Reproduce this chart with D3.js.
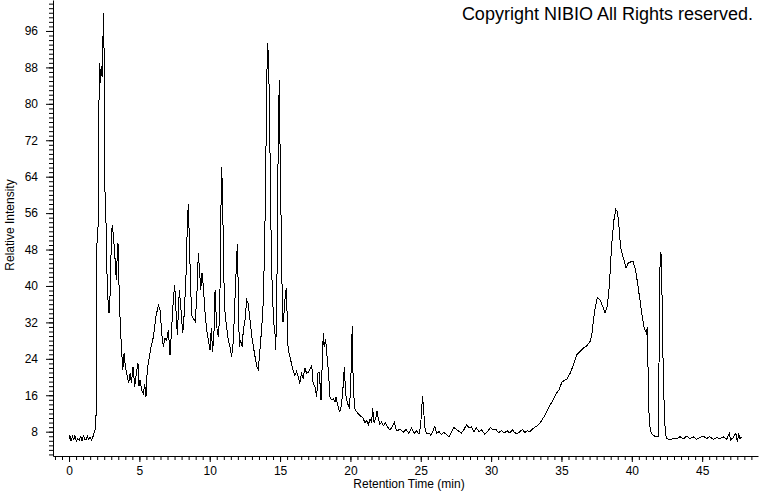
<!DOCTYPE html>
<html>
<head>
<meta charset="utf-8">
<script src="https://cdn.jsdelivr.net/npm/d3@7"></script>
<style>
body { margin: 0; background: #fff; }
svg { display: block; }
text { font-family: Arial, "Liberation Sans", sans-serif; }
</style>
</head>
<body>
<div id="chart"></div>
<script>
// retention time (min) and relative intensity
var times = [0.00,0.05,0.15,0.24,0.33,0.42,0.52,0.62,0.72,0.84,0.93,1.02,1.10,1.20,1.30,1.40,1.50,1.60,1.70,1.78,
1.85,1.92,1.97,2.06,2.13,2.18,2.25,2.30,2.37,2.44,2.49,2.54,2.61,2.68,2.77,2.84,2.94,3.01,3.08,3.18,
3.29,3.36,3.43,3.48,3.55,3.62,3.72,3.82,3.91,4.00,4.14,4.24,4.34,4.43,4.55,4.67,4.78,4.90,4.97,5.05,
5.15,5.28,5.38,5.47,5.56,5.71,5.83,5.95,6.06,6.18,6.35,6.47,6.59,6.70,6.82,6.94,7.06,7.18,7.30,7.41,
7.51,7.60,7.70,7.84,7.96,8.08,8.19,8.32,8.41,8.48,8.55,8.65,8.72,8.83,8.96,9.08,9.19,9.26,9.36,9.45,
9.55,9.67,9.79,9.90,10.02,10.11,10.21,10.31,10.38,10.45,10.54,10.64,10.73,10.80,10.85,10.92,10.99,11.09,11.21,11.32,
11.44,11.56,11.68,11.80,11.89,11.96,12.03,12.10,12.20,12.30,12.39,12.51,12.63,12.74,12.86,12.99,13.10,13.22,13.34,13.45,
13.57,13.70,13.81,13.91,13.98,14.05,14.12,14.17,14.24,14.32,14.39,14.46,14.55,14.64,14.69,14.76,14.82,14.88,14.95,15.00,
15.07,15.14,15.21,15.28,15.35,15.44,15.52,15.57,15.70,15.81,15.93,16.05,16.17,16.29,16.40,16.52,16.64,16.77,16.88,17.00,
17.10,17.25,17.35,17.49,17.60,17.70,17.79,17.91,18.03,18.07,18.13,18.24,18.31,18.43,18.55,18.67,18.79,18.90,18.97,19.07,
19.21,19.30,19.42,19.50,19.57,19.66,19.78,19.92,20.02,20.09,20.14,20.20,20.33,20.49,20.68,20.87,21.04,21.16,21.28,21.40,
21.51,21.58,21.68,21.79,21.89,21.99,22.10,22.22,22.34,22.48,22.60,22.77,22.93,23.12,23.28,23.52,23.76,23.95,24.14,24.35,
24.54,24.70,24.87,24.99,25.06,25.13,25.20,25.30,25.41,25.58,25.72,25.84,26.00,26.12,26.31,26.47,26.64,26.83,27.00,27.18,
27.35,27.54,27.73,27.89,28.06,28.25,28.44,28.60,28.77,28.96,29.15,29.34,29.55,29.74,29.96,30.15,30.34,30.53,30.74,30.93,
31.14,31.33,31.52,31.68,31.85,32.04,32.23,32.39,32.56,32.75,32.91,33.10,33.27,33.46,33.62,33.81,33.98,34.17,34.33,34.48,
34.64,34.83,35.02,35.20,35.37,35.61,35.85,36.08,36.32,36.56,36.79,37.03,37.15,37.27,37.39,37.55,37.74,37.93,38.10,38.26,
38.40,38.56,38.73,38.86,38.98,39.09,39.21,39.38,39.59,39.74,39.94,40.10,40.27,40.41,40.58,40.74,40.88,41.04,41.10,41.17,
41.24,41.36,41.48,41.64,41.81,41.90,41.97,42.03,42.11,42.19,42.28,42.38,42.50,42.71,42.95,43.18,43.42,43.66,43.89,44.13,
44.37,44.60,44.84,45.08,45.32,45.55,45.79,46.03,46.26,46.50,46.74,46.93,47.02,47.21,47.40,47.50,47.60,47.69,47.81];

var intensity = [6.5,7.3,5.9,7.0,6.3,7.1,5.9,6.5,6.1,7.0,5.9,7.3,6.4,6.2,7.0,6.3,6.8,6.2,6.9,7.7,
8.5,11.7,48.6,53.0,80.8,89.0,84.6,88.2,86.0,100.0,91.8,61.8,57.4,44.2,36.9,34.0,39.1,51.6,53.4,50.1,
45.0,41.3,47.2,49.4,40.6,33.3,26.7,21.6,25.2,22.3,20.1,18.7,20.8,18.7,22.3,17.9,20.8,23.0,18.0,19.4,
17.2,16.4,18.5,15.7,21.6,24.5,26.7,28.1,30.3,33.3,35.8,34.7,29.6,26.7,28.5,28.1,30.3,24.8,31.0,36.9,
40.2,34.7,29.2,39.1,34.7,29.6,34.0,42.8,53.8,58.0,50.1,39.1,33.6,32.9,32.2,37.3,47.2,44.2,39.1,42.8,
39.8,34.0,30.3,28.1,26.0,30.7,25.6,30.3,39.1,34.0,29.6,28.9,39.1,57.4,66.2,58.9,42.8,34.0,30.7,28.1,
26.7,24.5,28.1,37.6,44.2,49.2,39.1,26.7,28.1,26.7,30.3,32.5,36.9,36.2,32.5,28.9,26.7,24.5,22.3,21.6,
26.0,31.0,36.9,50.1,64.8,85.0,93.4,90.0,80.8,60.0,45.0,38.0,32.0,29.5,26.0,35.0,55.0,75.8,85.2,70.0,
55.0,40.0,32.0,34.0,37.0,39.5,32.0,26.0,24.4,23.0,21.5,20.4,21.2,20.0,18.6,20.8,19.8,22.0,20.8,21.0,
21.5,22.6,18.6,17.8,15.6,21.0,21.0,15.0,26.0,29.6,26.7,28.3,25.5,21.5,15.6,15.0,15.3,14.5,15.6,14.3,
12.4,12.6,15.6,18.7,22.3,16.3,14.3,13.4,17.4,28.0,31.2,17.4,12.8,12.2,11.5,11.1,10.0,10.4,9.6,10.8,
10.0,13.2,10.0,10.8,12.6,10.8,9.6,10.1,9.3,10.0,9.3,8.4,8.8,10.0,8.2,8.5,7.9,8.5,7.7,8.8,
7.7,8.2,7.5,9.2,12.9,15.9,12.8,8.8,7.6,7.7,7.2,8.0,9.2,7.7,8.0,7.4,7.8,7.4,6.9,7.8,
8.9,8.5,8.0,7.7,8.4,9.5,8.8,9.1,8.0,8.8,8.0,8.4,7.4,8.0,8.9,8.4,8.5,7.8,8.2,7.7,
8.2,7.7,8.4,7.8,7.5,8.0,8.5,7.8,8.2,8.0,8.5,9.0,9.3,9.8,10.6,11.5,12.6,13.7,14.6,15.4,
16.4,17.2,18.8,19.3,19.4,20.8,22.6,24.9,25.6,26.4,26.8,27.8,29.0,32.5,35.0,37.5,37.0,35.5,34.1,35.5,
39.9,48.7,54.5,56.8,56.3,53.0,48.3,46.4,43.9,45.0,45.3,45.3,43.5,40.6,36.9,33.3,30.7,29.6,31.0,19.4,
9.8,8.0,7.3,7.0,7.0,7.0,39.9,47.4,46.6,28.0,15.6,7.6,6.5,6.2,6.5,6.4,6.9,6.4,7.0,6.5,
6.9,6.3,6.7,7.0,6.5,6.9,6.3,6.7,6.5,6.9,6.3,7.6,6.2,6.7,7.7,5.8,7.6,6.5,6.9];

var xTicks = [0, 5, 10, 15, 20, 25, 30, 35, 40, 45];
var yTicks = [8, 16, 24, 32, 40, 48, 56, 64, 72, 80, 88, 96];

var width = 760;
var height = 492;

var x = d3.scaleLinear().domain([-1.14, 48.97]).range([53, 758]);
var y = d3.scaleLinear().domain([2.66, 102.8]).range([456, 0]);

var svg = d3.select("#chart")
  .append("svg")
  .attr("width", width)
  .attr("height", height)
  .style("background", "#fff");

// minor ticks first, so the labelled axes sit on top
svg.append("g")
  .attr("transform", "translate(0,456)")
  .call(d3.axisBottom(x).tickValues(d3.range(-1, 49, 0.5)).tickSize(4).tickSizeOuter(0).tickFormat(""))
  .call(g => g.select(".domain").remove());

svg.append("g")
  .attr("transform", "translate(53,0)")
  .call(d3.axisLeft(y).tickValues(d3.range(3, 103, 1)).tickSize(4).tickSizeOuter(0).tickFormat(""))
  .call(g => g.select(".domain").remove());

var xAxis = svg.append("g")
  .attr("transform", "translate(0,456)")
  .call(d3.axisBottom(x).tickValues(xTicks).tickSize(6).tickSizeOuter(0).tickPadding(4));

var yAxis = svg.append("g")
  .attr("transform", "translate(53,0)")
  .call(d3.axisLeft(y).tickValues(yTicks).tickSize(7).tickSizeOuter(0).tickPadding(8));

svg.selectAll(".tick text")
  .style("font-size", "12px")
  .style("fill", "#000");
svg.selectAll(".tick line, .domain")
  .attr("stroke", "#000");

var pts = times.map((t, i) => [t, intensity[i]]);

var line = d3.line()
  .x(d => x(d[0]))
  .y(d => y(d[1]));

svg.append("path")
  .datum(pts)
  .attr("d", line)
  .attr("fill", "none")
  .attr("stroke", "#000")
  .attr("stroke-width", 1)
  .attr("shape-rendering", "crispEdges");

svg.append("text")
  .attr("x", 409)
  .attr("y", 488)
  .attr("text-anchor", "middle")
  .style("font-size", "12px")
  .text("Retention Time (min)");

svg.append("text")
  .attr("transform", "translate(14,225) rotate(-90)")
  .attr("text-anchor", "middle")
  .style("font-size", "12px")
  .text("Relative Intensity");

svg.append("text")
  .attr("x", 753)
  .attr("y", 20)
  .attr("text-anchor", "end")
  .style("font-size", "18px")
  .text("Copyright NIBIO All Rights reserved.");
</script>
</body>
</html>
